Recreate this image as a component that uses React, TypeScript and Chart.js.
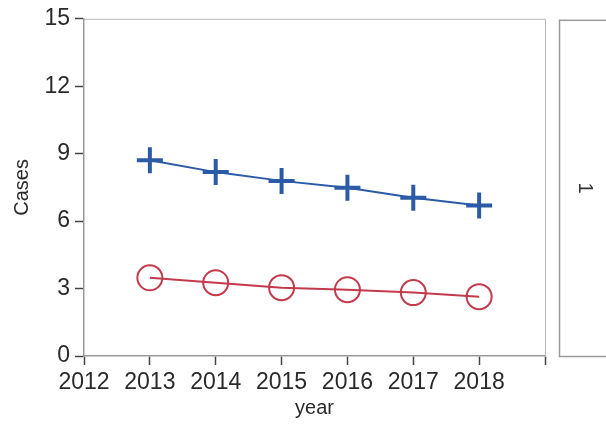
import React, { useEffect, useRef } from "react";
import { Chart, registerables } from "chart.js";

Chart.register(...registerables);

const years = [2013, 2014, 2015, 2016, 2017, 2018];
const seriesPlus = [8.71, 8.18, 7.79, 7.48, 7.04, 6.69];
const seriesCircle = [3.48, 3.26, 3.04, 2.95, 2.82, 2.64];
const yTicks = [0, 3, 6, 9, 12, 15];
const xRange = [2012, 2019];
const legendLabel = "1";

const FONT = "'Liberation Sans', Arial, sans-serif";

const framePlugin = {
  id: "frame",
  afterDraw(chart: any) {
    const { ctx, chartArea } = chart;
    ctx.save();
    ctx.strokeStyle = "#b8b8b8";
    ctx.lineWidth = 1;
    ctx.beginPath();
    ctx.moveTo(chartArea.left, chartArea.top + 0.5);
    ctx.lineTo(chartArea.right + 0.5, chartArea.top + 0.5);
    ctx.lineTo(chartArea.right + 0.5, chartArea.bottom);
    ctx.stroke();
    // right-side panel (legend box, cut off)
    ctx.strokeStyle = "#9a9a9a";
    ctx.lineWidth = 1.5;
    ctx.strokeRect(559.5, chartArea.top + 1.5, 80, chartArea.bottom - chartArea.top - 1);
    ctx.fillStyle = "#333";
    ctx.font = `20px ${FONT}`;
    ctx.textAlign = "center";
    ctx.textBaseline = "middle";
    ctx.translate(585, 188);
    ctx.rotate(Math.PI / 2);
    ctx.fillText(legendLabel, 0, 0);
    ctx.restore();
  },
};

export default function App() {
  const ref = useRef<HTMLCanvasElement>(null);
  useEffect(() => {
    document.body.style.margin = "0";
    const chart = new Chart(ref.current!, {
      type: "line",
      data: {
        datasets: [
          {
            label: "plus",
            data: years.map((x, i) => ({ x, y: seriesPlus[i] })),
            borderColor: "#2b5aa6",
            backgroundColor: "#2b5aa6",
            borderWidth: 2,
            pointStyle: "cross",
            pointRadius: 13,
            pointBorderWidth: 4,
            tension: 0,
          },
          {
            label: "circle",
            data: years.map((x, i) => ({ x, y: seriesCircle[i] })),
            borderColor: "#c33a4c",
            backgroundColor: "rgba(0,0,0,0)",
            borderWidth: 2,
            pointStyle: "circle",
            pointRadius: 12.5,
            pointBorderWidth: 2,
            tension: 0,
          },
        ],
      },
      options: {
        animation: false,
        responsive: false,
        maintainAspectRatio: false,
        layout: { padding: { left: 0, right: 61, top: 15, bottom: 0 } },
        plugins: { legend: { display: false }, tooltip: { enabled: false } },
        scales: {
          x: {
            type: "linear",
            min: xRange[0],
            max: xRange[1],
            afterBuildTicks(scale: any) {
              const t = [];
              for (let v = xRange[0]; v <= xRange[1]; v++) t.push({ value: v });
              scale.ticks = t;
            },
            afterFit(scale: any) {
              scale.height = 71;
            },
            grid: { drawOnChartArea: false, drawTicks: true, tickLength: 9, color: "#444", tickWidth: 1.5 },
            border: { color: "#999", width: 1.5 },
            ticks: {
              padding: 4,
              color: "#2a2a2a",
              font: { size: 23, family: FONT },
              maxRotation: 0,
              autoSkip: false,
              callback: (v: any) => (v === xRange[1] ? "" : String(v)),
            },
            title: {
              display: true,
              text: "year",
              color: "#2a2a2a",
              font: { size: 20, family: FONT },
              padding: { top: 0, bottom: 7 },
            },
          },
          y: {
            min: yTicks[0],
            max: yTicks[yTicks.length - 1],
            afterBuildTicks(scale: any) {
              scale.ticks = yTicks.map((v) => ({ value: v }));
            },
            afterFit(scale: any) {
              scale.width = 84;
            },
            grid: { drawOnChartArea: false, drawTicks: true, tickLength: 9, color: "#444", tickWidth: 1.5 },
            border: { color: "#999", width: 1.5 },
            ticks: {
              padding: 5,
              color: "#2a2a2a",
              font: { size: 23, family: FONT },
            },
            title: {
              display: true,
              text: "Cases",
              color: "#2a2a2a",
              font: { size: 20, family: FONT },
              padding: { top: 10, bottom: 0 },
            },
          },
        },
      },
      plugins: [framePlugin],
    });
    return () => chart.destroy();
  }, []);
  return (
    <div style={{ position: "fixed", left: 0, top: 0, width: 606, height: 427, background: "#fff" }}>
      <canvas ref={ref} width={606} height={427} style={{ width: 606, height: 427 }} />
    </div>
  );
}
